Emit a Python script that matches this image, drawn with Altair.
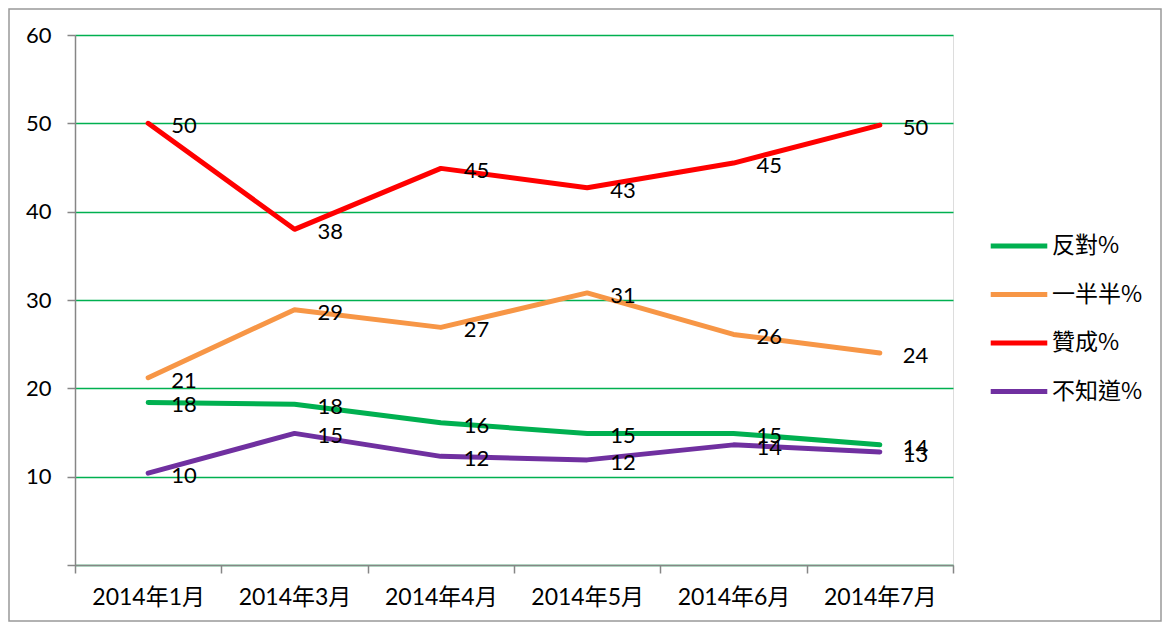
import altair as alt
import pandas as pd

months = ["2014年1月", "2014年3月", "2014年4月", "2014年5月", "2014年6月", "2014年7月"]
series = ["反對%", "一半半%", "贊成%", "不知道%"]
colors = ["#00B050", "#F79646", "#FF0000", "#7030A0"]

oppose = [18.4, 18.2, 16.1, 14.9, 14.9, 13.6]
half = [21.2, 28.9, 26.9, 30.8, 26.1, 24.0]
support = [50.0, 38.0, 44.9, 42.7, 45.5, 49.8]
unknown = [10.4, 14.9, 12.3, 11.9, 13.6, 12.8]

oppose_lbl = ["18", "18", "16", "15", "15", "14"]
half_lbl = ["21", "29", "27", "31", "26", "24"]
support_lbl = ["50", "38", "45", "43", "45", "50"]
unknown_lbl = ["10", "15", "12", "12", "14", "13"]

values = [oppose, half, support, unknown]
labels = [oppose_lbl, half_lbl, support_lbl, unknown_lbl]

rows = []
for s, vals, lbls in zip(series, values, labels):
    for i, (m, v, l) in enumerate(zip(months, vals, lbls)):
        rows.append({"month": m, "series": s, "value": v, "label": l, "order": i})
df = pd.DataFrame(rows)

FONT = "Lato, 'Noto Sans CJK TC', sans-serif"

x = alt.X("month:N", sort=months, title=None,
          scale=alt.Scale(paddingInner=0, paddingOuter=0),
          axis=alt.Axis(tickBand="extent", labelAngle=0, labelFontSize=23,
                        labelFont=FONT, labelColor="black", labelPadding=13,
                        tickSize=8, tickColor="#868686", domainColor="#868686",
                        domainWidth=1.5, tickWidth=1.5, grid=False))
y = alt.Y("value:Q", title=None,
          scale=alt.Scale(domain=[0, 60], nice=False),
          axis=alt.Axis(values=[0, 10, 20, 30, 40, 50, 60],
                        labelExpr="datum.value == 0 ? '' : datum.label",
                        labelFontSize=22, labelFont=FONT, labelColor="black",
                        labelPadding=16, tickSize=8, tickColor="#868686",
                        tickWidth=1.5, domainColor="#868686", domainWidth=1.5,
                        grid=True, gridColor="#00B050", gridWidth=1.5))

color = alt.Color("series:N", sort=series,
                  scale=alt.Scale(domain=series, range=colors),
                  legend=alt.Legend(title=None, orient="none", legendX=913, legendY=180,
                                    symbolType="stroke", symbolSize=3200,
                                    symbolStrokeWidth=5, labelFontSize=23,
                                    labelFont="'Noto Sans CJK TC', sans-serif",
                                    labelColor="black", rowPadding=5.5, labelOffset=2))

base = alt.Chart(df)

frame = base.mark_rect(fill=None, stroke="#999999", strokeWidth=1.5).encode(
    x=alt.value(-66), x2=alt.value(1086), y=alt.value(-26), y2=alt.value(586)
).transform_filter("datum.order == 0 && datum.series == '反對%'")

lines = base.mark_line(strokeWidth=5, strokeCap="round", strokeJoin="round").encode(
    x=x, y=y, color=color, order="order:Q")

text = base.mark_text(align="left", baseline="middle", dx=23, dy=3, fontSize=22,
                      font=FONT, color="black").encode(
    x=alt.X("month:N", sort=months), y="value:Q", text="label:N")

chart = alt.layer(frame, lines, text).properties(
    width=878, height=530,
    padding={"left": 67, "top": 27, "right": 209, "bottom": 57},
    autosize=alt.AutoSizeParams(type="none"),
).configure_view(stroke=None).configure(background="white")

chart.save("out.html", embed_options={"renderer": "svg", "actions": False})
